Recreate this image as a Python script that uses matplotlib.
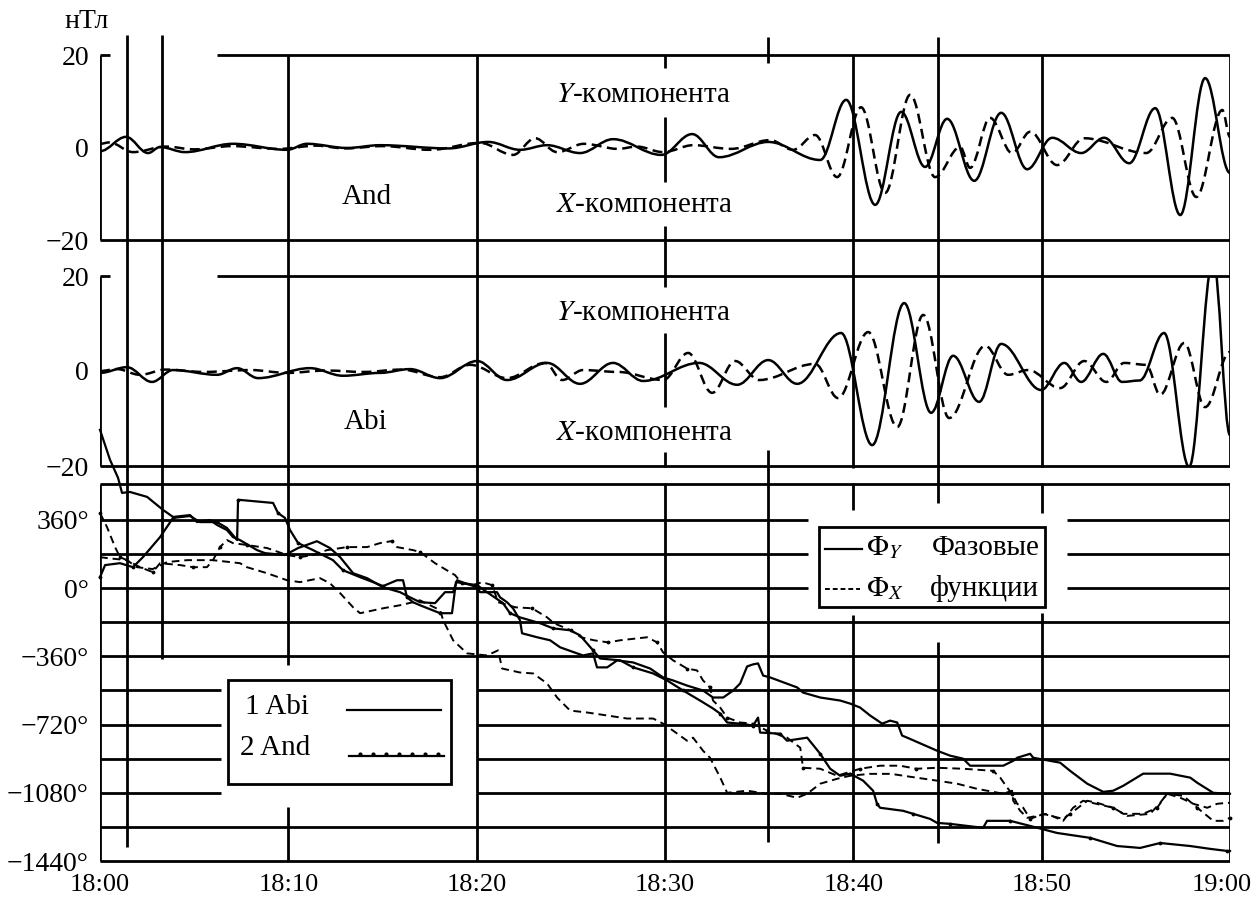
import matplotlib
matplotlib.use("Agg")
import matplotlib.pyplot as plt
from matplotlib.path import Path
from matplotlib.patches import PathPatch, Rectangle
from matplotlib.transforms import ScaledTranslation

plt.rcParams['font.family'] = ['Liberation Serif', 'DejaVu Serif']
plt.rcParams['mathtext.fontset'] = 'stix'

# ---------------- DATA ----------------
# time in minutes after 18:00
x_tick_pos = [0, 10, 20, 30, 40, 50, 60]
x_tick_labels = ['18:00', '18:10', '18:20', '18:30', '18:40', '18:50', '19:00']
b_ticks = [-20, 0, 20]
b_tick_labels = ['\u221220', '0', '20']
ph_ticks = [-1440, -1080, -720, -360, 0, 360]
ph_tick_labels = ['\u22121440\u00b0', '\u22121080\u00b0', '\u2212720\u00b0', '\u2212360\u00b0', '0\u00b0', '360\u00b0']

# And station (extrema of the filtered pulsations), nT
and_y_t = [0, 1.38, 2.55, 3.19, 4.51, 7.06, 9.93, 10.99, 13.12, 14.87, 18.5, 20.61, 22.3, 23.74,
           25.49, 27.24, 29.8, 31.44, 32.87, 35.48, 38.24, 39.62, 41.16, 42.54, 43.81, 44.98,
           46.42, 47.85, 49.23, 50.56, 52.1, 53.32, 54.65, 56.03, 57.36, 58.68, 60.0]
and_y_v = [-0.8, 2.3, -1.2, 0.1, -1.0, 0.8, -0.5, 0.8, -0.1, 0.5, -0.2, 1.2, -0.5, 0.5,
           -1.2, 1.8, -1.6, 2.9, -2.1, 1.2, -2.7, 10.3, -12.4, 7.7, -4.2, 6.2,
           -7.2, 7.5, -4.7, 2.1, -1.2, 2.1, -3.4, 8.5, -14.6, 15.0, -5.5]
and_x_t = [0, 0.5, 1.75, 3.5, 5.0, 7.0, 9.5, 11.5, 13.0, 15.0, 17.53, 20.18, 21.93, 23.1,
           24.27, 25.7, 27.5, 28.5, 29.9, 31.5, 33.5, 35.58, 36.8, 37.97, 39.14, 40.41,
           41.69, 43.02, 44.34, 45.67, 46.2, 47.26, 48.43, 49.39, 50.82, 52.26, 55.55,
           56.93, 58.21, 59.59, 60.0]
and_x_v = [0.8, 1.1, -1.0, 0.2, -0.4, 0.3, -0.3, 0.4, -0.2, 0.3, -0.5, 1.0, -1.6, 2.0,
           -1.0, 0.8, -0.3, 0.2, -1.0, 0.5, -0.3, 1.6, -0.5, 2.7, -6.4, 8.7,
           -9.8, 11.4, -6.4, 0.1, -4.4, 6.4, -1.2, 3.4, -3.8, 2.0, -1.2,
           6.4, -10.7, 8.1, 2.3]

# Abi station, nT
abi_y_t = [0, 1.43, 2.76, 3.88, 6.21, 7.28, 8.39, 11.15, 12.9, 14.87, 16.46, 18.06, 20.02,
           21.61, 23.74, 25.49, 27.24, 28.84, 31.81, 33.83, 35.48, 37.02, 39.35, 41.0, 42.7,
           44.13, 45.3, 46.68, 47.85, 49.97, 51.2, 52.1, 53.27, 54.27, 55.2, 56.5, 57.83,
           59.11, 60.0]
abi_y_v = [-0.4, 0.8, -2.3, 0.2, -0.8, 0.6, -1.5, 0.6, -1.0, -0.4, 0.4, -1.5, 2.1,
           -1.9, 1.7, -2.7, 1.7, -2.1, 1.7, -2.9, 2.3, -2.7, 8.0, -15.6, 14.3,
           -8.8, 3.2, -6.5, 5.7, -4.0, 1.7, -2.3, 3.6, -2.3, -2.0, 8.0, -20.2,
           23.6, -13.5]
abi_x_t = [0, 0.9, 2.12, 3.5, 5.5, 8.0, 9.93, 12.0, 14.0, 16.0, 18.06, 19.65, 21.61, 23.63,
           24.54, 25.65, 27.5, 29.9, 31.23, 32.5, 33.72, 35.0, 37.97, 39.19, 40.79, 42.33,
           43.71, 45.09, 47.0, 48.22, 49.28, 50.98, 52.26, 53.43, 54.38, 55.55, 56.29,
           57.57, 58.68, 60.0]
abi_x_v = [0.0, 0.4, -0.8, 0.3, -0.2, 0.2, -0.4, 0.1, -0.2, 0.3, -1.3, 1.3, -1.5, 1.7,
           -1.9, 0.2, -0.2, -1.9, 3.8, -4.6, 2.1, -1.9, 1.5, -5.7, 8.2, -11.8,
           11.8, -9.9, 5.3, -0.8, 0.2, -3.6, 2.1, -2.3, 1.7, 1.3, -5.0,
           5.9, -7.6, 4.0]

# Phase functions, degrees
abi_phy_t = [0, 0.53, 0.96, 1.17, 1.59, 2.5, 3.35, 3.88, 4.78, 5.15,
             5.84, 6.21, 6.74, 7.06, 7.43, 8.34, 8.76, 9.82, 10.52, 11.52,
             12.21, 12.75, 13.44, 14.18, 15.03, 15.93, 16.46, 16.99, 17.79, 18.32,
             18.75, 18.96, 19.22, 20.02, 20.18, 21.08, 21.24, 21.61, 21.93, 22.30,
             22.41, 23.21, 23.9, 24.43, 25.33, 25.65, 26.18, 26.39, 26.93, 27.46,
             28.31, 29.21, 29.9, 30.43, 31.17, 32.02, 32.55, 33.09, 33.62, 33.99,
             34.36, 34.68, 34.94, 35.21, 35.58, 37.02, 37.33, 38.24, 39.3, 39.83,
             40.36, 40.89, 41.53, 41.95, 42.33, 42.59, 42.86, 44.08, 44.45, 45.14,
             45.83, 46.2, 47.26, 47.96, 48.49, 48.7, 49.39, 49.55, 50.98, 51.51,
             52.42, 53.27, 53.8, 54.33, 55.39, 56.13, 56.82, 57.89, 58.26, 59.11,
             59.85, 60.0]
abi_phy_v = [836, 678, 582, 503, 508, 482, 413, 376, 386, 349,
             360, 334, 307, 270, 254, 201, 185, 175, 212, 248,
             212, 164, 79, 53, 5, -21, -48, -74, -79, -21,
             -21, 42, 32, 5, -21, -21, -48, -74, -106, -169,
             -238, -259, -275, -312, -344, -355, -344, -418, -418, -381,
             -392, -424, -471, -487, -514, -540, -577, -577, -540, -503,
             -413, -402, -397, -461, -471, -524, -551, -577, -593, -609,
             -630, -672, -715, -699, -709, -778, -789, -842, -858, -884,
             -900, -937, -937, -937, -911, -895, -874, -895, -921, -964,
             -1032, -1075, -1069, -1043, -979, -979, -979, -1000, -1027, -1080,
             -1085, -1085]

and_phy_t = [0, 0.27, 1.06, 1.75, 2.28, 3.19, 3.88, 4.78, 5.31, 6.21,
             6.74, 7.28, 7.33, 7.43, 9.19, 9.45, 9.82, 10.09, 10.52, 11.31,
             12.37, 12.9, 13.81, 14.5, 15.03, 15.77, 16.09, 16.3, 16.62, 16.99,
             18.06, 18.69, 18.9, 20.02, 20.55, 21.4, 21.77, 22.3, 23.37, 24.06,
             24.96, 25.49, 26.18, 26.55, 27.62, 28.31, 29.37, 30.11, 30.96, 31.86,
             32.55, 32.93, 33.3, 33.99, 34.68, 34.94, 35.05, 36.11, 36.48, 37.55,
             38.24, 38.77, 39.3, 39.83, 40.52, 41.05, 41.26, 41.42, 42.64, 43.18,
             44.08, 44.45, 45.14, 46.89, 47.1, 48.33, 49.39, 50.82, 52.58, 54.01,
             55.23, 56.29, 57.89, 58.95, 59.85, 60.0]
and_phy_v = [58, 122, 132, 111, 164, 270, 371, 381, 349, 349,
             318, 254, 466, 466, 450, 397, 371, 307, 238, 201,
             148, 95, 58, 32, 11, 42, 42, -48, -74, -90,
             -132, -132, 32, 16, -21, -79, -132, -154, -185, -212,
             -222, -249, -328, -371, -381, -418, -450, -487, -540, -593,
             -635, -662, -709, -715, -725, -683, -762, -768, -805, -789,
             -874, -953, -990, -979, -1016, -1069, -1138, -1159, -1175, -1191,
             -1218, -1239, -1244, -1265, -1228, -1228, -1255, -1292, -1318, -1361,
             -1371, -1345, -1361, -1376, -1387, -1387]

abi_phx_t = [0, 0.37, 1.43, 1.96, 2.8, 3.56, 4.62, 5.99, 7.43, 7.8,
             8.87, 9.93, 10.62, 11.68, 12.21, 12.75, 13.44, 13.81, 15.03, 15.93,
             16.62, 16.99, 18.06, 18.22, 18.75, 19.49, 20.55, 21.14, 21.35, 22.3,
             23.0, 23.74, 24.27, 24.96, 25.86, 26.93, 27.99, 29.37, 29.9, 30.43,
             31.17, 31.49, 32.02, 32.39, 32.93, 33.3, 34.36, 35.42, 36.11, 37.02,
             37.55, 38.24, 39.14, 39.83, 40.89, 42.0, 43.0, 44.45, 45.51, 46.57,
             47.96, 48.43, 48.49, 48.86, 49.23, 50.29, 51.14, 51.67, 52.2, 53.8,
             54.54, 55.76, 56.29, 56.66, 57.36, 58.05, 58.79, 59.32, 59.85, 60.0]
abi_phx_v = [164, 159, 148, 111, 101, 138, 148, 148, 132, 111,
             79, 42, 32, 53, 26, -26, -101, -132, -106, -90,
             -74, -64, -116, -169, -275, -344, -355, -328, -424, -445,
             -450, -503, -577, -646, -656, -672, -688, -688, -715, -752,
             -805, -789, -858, -895, -999, -1080, -1069, -1085, -1085, -1106,
             -1085, -1032, -1006, -990, -980, -980, -995, -1016, -1032, -1059,
             -1085, -1069, -1122, -1175, -1212, -1191, -1228, -1159, -1122, -1159,
             -1202, -1191, -1133, -1085, -1106, -1138, -1159, -1138, -1133, -1133]

and_phx_t = [0, 0.37, 0.8, 1.06, 1.43, 2.12, 2.8, 3.19, 4.25, 4.94,
             5.68, 6.0, 6.37, 6.74, 7.06, 7.8, 8.87, 9.93, 10.62, 11.31,
             12.05, 13.12, 14.18, 14.87, 15.51, 15.77, 16.62, 16.99, 17.79, 18.85,
             19.22, 19.8, 20.29, 20.82, 21.14, 22.06, 22.94, 23.74, 24.1, 25.0,
             25.54, 26.23, 26.98, 27.62, 29.05, 29.58, 29.9, 30.43, 31.17, 31.7,
             32.02, 32.39, 32.55, 32.93, 33.3, 33.99, 34.68, 35.42, 36.48, 37.18,
             37.33, 38.24, 39.14, 40.36, 41.42, 42.48, 43.35, 44.45, 45.83, 47.42,
             47.8, 48.17, 48.43, 48.7, 49.02, 49.39, 50.08, 51.14, 51.51, 52.42,
             52.95, 53.8, 54.33, 55.39, 56.13, 56.66, 57.52, 58.26, 59.11, 59.64,
             60.0]
and_phx_v = [397, 323, 217, 164, 148, 111, 85, 132, 122, 111,
             111, 148, 217, 254, 238, 228, 212, 175, 164, 175,
             201, 217, 217, 238, 249, 217, 201, 191, 132, 69,
             26, 16, 32, 16, -74, -101, -106, -154, -185, -222,
             -259, -275, -286, -275, -259, -286, -339, -381, -424, -434,
             -487, -524, -593, -630, -683, -709, -715, -752, -789, -842,
             -948, -953, -990, -953, -937, -937, -953, -948, -953, -964,
             -1000, -1053, -1085, -1138, -1159, -1218, -1191, -1218, -1191, -1122,
             -1133, -1159, -1191, -1191, -1159, -1085, -1096, -1159, -1228, -1228,
             -1212]

# ---------------- LAYOUT ----------------
W, H = 1257, 897
fig = plt.figure(figsize=(W / 100, H / 100), dpi=100)
X0, X1 = 100, 1230
L = X0 / W
WD = (X1 - X0) / W


def fy(py):
    return 1 - py / H


def m(px):
    """pixel column -> minutes (for layout elements only)"""
    return (px - X0) / (X1 - X0) * 60


ov = fig.add_axes([L, 0, WD, 1])
ov.set_xlim(0, 60)
ov.set_ylim(H, 0)
ov.axis('off')

ax1 = fig.add_axes([L, fy(240), WD, (240 - 55) / H])
ax2 = fig.add_axes([L, fy(466), WD, (466 - 276) / H])
ax3 = fig.add_axes([L, fy(861), WD, (861 - 484) / H])

LW = 2.0
FS_T = 20
FS_A = 21

for ax in (ax1, ax2, ax3):
    ax.set_facecolor('none')
    for s in ax.spines.values():
        s.set_visible(False)
    ax.set_xlim(0, 60)
    ax.tick_params(length=0, labelsize=FS_T, pad=8)

for ax in (ax1, ax2):
    ax.set_ylim(-20, 20)
    ax.set_yticks(b_ticks)
    ax.set_yticklabels(b_tick_labels)
    ax.set_xticks([])

ax3.set_ylim(-1440, 550)
ax3.set_yticks(ph_ticks)
ax3.set_yticklabels(ph_tick_labels)
ax3.set_xticks(x_tick_pos)
ax3.set_xticklabels(x_tick_labels)
ax3.tick_params(axis='x', pad=9, labelsize=19)
last = ax3.get_xticklabels()[-1]
last.set_transform(last.get_transform() + ScaledTranslation(-8 / 100, 0, fig.dpi_scale_trans))

# frame / grid segments (layout)
hsegs = [(55, 0, m(110)), (55, m(217), 60), (240, 0, 60),
         (276, 0, m(110)), (276, m(217), 60), (466, 0, 60),
         (484, 0, 60), (861, 0, 60)]
for y, a, b in hsegs:
    ov.plot([a, b], [y, y], color='black', lw=LW, solid_capstyle='butt')

vsegs = [(0, 55, 240), (0, 276, 466), (0, 484, 861),
         (m(127), 35, 847), (m(162), 35, 659),
         (10, 55, 665), (10, 807, 861),
         (20, 55, 861),
         (30, 55, 68), (30, 117, 182), (30, 226, 287), (30, 333, 407), (30, 452, 467), (30, 483, 861),
         (m(768), 37, 63), (m(768), 450, 842),
         (40, 55, 468), (40, 483, 510), (40, 615, 861),
         (m(938), 37, 503), (m(938), 642, 843),
         (50, 55, 467), (50, 483, 513), (50, 613, 861),
         (60, 55, 467), (60, 483, 861)]
for x, a, b in vsegs:
    ov.plot([x, x], [a, b], color='black', lw=LW, solid_capstyle='butt')

# phase-panel horizontal grid (every 180 deg), broken around the legends
grid_full = [-1260, -360, -180]
grid_leg2 = [360, 180, 0]
grid_leg1 = [-1080, -900, -720, -540]
for g in grid_full:
    ax3.plot([0, 60], [g, g], color='black', lw=LW, solid_capstyle='butt')
for g in grid_leg2:
    ax3.plot([0, m(808)], [g, g], color='black', lw=LW, solid_capstyle='butt')
    ax3.plot([m(1067), 60], [g, g], color='black', lw=LW, solid_capstyle='butt')
for g in grid_leg1:
    ax3.plot([0, m(221)], [g, g], color='black', lw=LW, solid_capstyle='butt')
    ax3.plot([20, 60], [g, g], color='black', lw=LW, solid_capstyle='butt')


# ---------------- CURVES ----------------
def smooth(ax, t, v, ls):
    verts = [(t[0], v[0])]
    codes = [Path.MOVETO]
    for i in range(1, len(t)):
        dt = t[i] - t[i - 1]
        verts += [(t[i - 1] + 0.36 * dt, v[i - 1]), (t[i] - 0.36 * dt, v[i]), (t[i], v[i])]
        codes += [Path.CURVE4] * 3
    ax.add_patch(PathPatch(Path(verts, codes), fill=False, edgecolor='black',
                           lw=1.8, linestyle=ls, zorder=3))


DASH = (0, (4, 2.2))
smooth(ax1, and_y_t, and_y_v, '-')
smooth(ax1, and_x_t, and_x_v, DASH)
smooth(ax2, abi_y_t, abi_y_v, '-')
smooth(ax2, abi_x_t, abi_x_v, DASH)

PH_DASH = (0, (4, 2.5))
ax3.plot(abi_phy_t, abi_phy_v, color='black', lw=1.6, clip_on=False, zorder=3)
ax3.plot(and_phy_t, and_phy_v, color='black', lw=1.6, clip_on=False, zorder=3,
         marker='.', markersize=3.5, markevery=3)
ax3.plot(abi_phx_t, abi_phx_v, color='black', lw=1.4, ls=PH_DASH, clip_on=False, zorder=3)
ax3.plot(and_phx_t, and_phx_v, color='black', lw=1.4, ls=PH_DASH, clip_on=False, zorder=3,
         marker='.', markersize=3.5, markevery=3)

# ---------------- TEXTS ----------------
ov.text(m(64), 22, 'нТл', fontsize=FS_T, ha='left', va='center')
for yy in (95, 313):
    ov.text(m(556), yy, '$Y$-компонента', fontsize=FS_A, ha='left', va='center')
for yy in (205, 433):
    ov.text(m(556), yy, '$X$-компонента', fontsize=FS_A, ha='left', va='center')
ov.text(m(367), 197, 'And', fontsize=FS_A, ha='center', va='center')
ov.text(m(366), 422, 'Abi', fontsize=FS_A, ha='center', va='center')

# legend 1 (stations)
ov.add_patch(Rectangle((m(228), 680), m(451) - m(228), 104, fill=False,
                       edgecolor='black', lw=LW, zorder=4))
ov.text(m(245), 707, '1 Abi', fontsize=FS_A, ha='left', va='center', zorder=5)
ov.text(m(240), 748, '2 And', fontsize=FS_A, ha='left', va='center', zorder=5)
ov.plot([m(347), m(441)], [710, 710], color='black', lw=1.6, zorder=5)
ov.plot([m(349), m(444)], [756, 756], color='black', lw=1.6, zorder=5)
ov.plot([m(360), m(373), m(386), m(399), m(412), m(425), m(438)], [754] * 7,
        color='black', lw=0, marker='.', markersize=4, zorder=5)

# legend 2 (phase functions)
ov.add_patch(Rectangle((m(819), 527), m(1045) - m(819), 80, fill=False,
                       edgecolor='black', lw=LW, zorder=4))
ov.plot([m(825), m(862)], [549, 549], color='black', lw=1.6, zorder=5)
ov.plot([m(825), m(860)], [589, 589], color='black', lw=1.4, ls=(0, (2.5, 1.5)), zorder=5)
ov.text(m(866), 548, r'$\Phi_Y$', fontsize=FS_A, ha='left', va='center', zorder=5)
ov.text(m(866), 589, r'$\Phi_X$', fontsize=FS_A, ha='left', va='center', zorder=5)
ov.text(m(932), 548, 'Фазовые', fontsize=FS_A, ha='left', va='center', zorder=5)
ov.text(m(930), 589, 'функции', fontsize=FS_A, ha='left', va='center', zorder=5)

fig.savefig('out.png', dpi=100)
